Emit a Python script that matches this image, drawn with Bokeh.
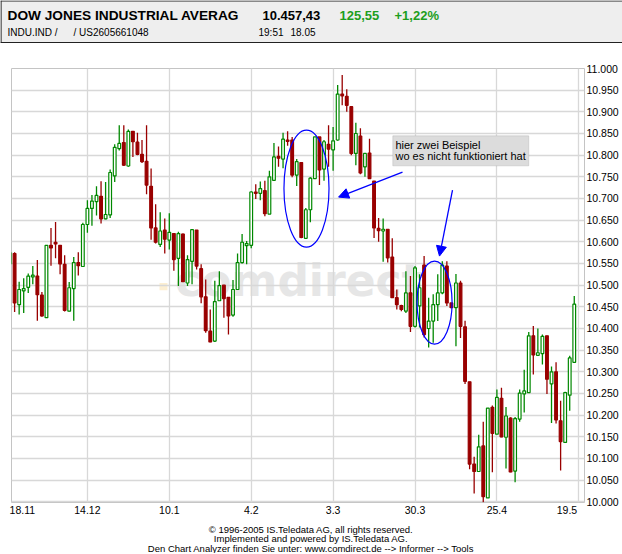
from bokeh.plotting import figure
from bokeh.layouts import column, row
from bokeh.models import (ColumnDataSource, FixedTicker, Label, BoxAnnotation,
                          Arrow, NormalHead, Range1d, Span)
from bokeh.embed import file_html
from bokeh.resources import INLINE

# ---------------- data (trading-day index, OHLC) ----------------
idx = list(range(1, 126))
opens = [10549,10573,10455,10487,10495,10519,10521,10477,10425,10592,
         10599,10592,10548,10440,10492,10552,10543,10640,10677,10693,
         10705,10653,10662,10752,10815,10829,10775,10855,10830,10802,
         10786,10728,10632,10594,10627,10604,10619,10562,10618,10505,
         10555,10627,10538,10473,10394,10371,10464,10500,10472,10431,
         10490,10552,10591,10592,10715,10712,10718,10664,10742,10797,
         10791,10835,10835,10754,10783,10608,10674,10746,10842,10768,
         10825,10812,10835,10941,10936,10912,10804,10844,10773,10805,
         10740,10631,10625,10629,10565,10471,10453,10440,10482,10405,
         10452,10546,10400,10417,10455,10482,10544,10459,10448,10505,
         10404,10277,10087,10070,10129,10009,10218,10156,10239,10149,
         10193,10071,10191,10249,10252,10383,10338,10342,10383,10272,
         10300,10187,10137,10246,10322]
highs = [10587,10576,10508,10516,10527,10544,10558,10484,10592,10632,
         10646,10592,10569,10507,10565,10576,10644,10696,10708,10728,
         10740,10738,10767,10825,10869,10869,10859,10855,10852,10835,
         10869,10769,10687,10668,10654,10666,10619,10623,10619,10569,
         10628,10627,10548,10513,10444,10510,10532,10500,10472,10512,
         10573,10618,10602,10717,10733,10739,10741,10764,10828,10820,
         10852,10855,10842,10791,10783,10678,10749,10842,10842,10835,
         10869,10865,10962,10985,10952,10912,10875,10862,10804,10838,
         10740,10655,10654,10629,10608,10490,10455,10532,10521,10544,
         10525,10567,10471,10479,10525,10555,10555,10459,10526,10510,
         10418,10277,10104,10155,10185,10216,10222,10259,10263,10219,
         10195,10196,10259,10305,10392,10406,10400,10386,10383,10312,
         10322,10233,10254,10337,10475]
lows = [10549,10438,10432,10436,10482,10502,10418,10427,10425,10545,
        10562,10525,10439,10439,10418,10522,10543,10621,10637,10661,
        10642,10652,10655,10738,10811,10775,10773,10796,10800,10782,
        10710,10605,10596,10588,10573,10582,10533,10498,10507,10498,
        10502,10536,10458,10390,10368,10369,10464,10425,10386,10427,
        10490,10550,10548,10585,10699,10696,10659,10664,10741,10773,
        10770,10822,10749,10729,10608,10608,10645,10745,10731,10741,
        10773,10764,10833,10915,10900,10800,10777,10756,10750,10746,
        10609,10600,10554,10552,10471,10444,10440,10436,10392,10402,
        10402,10379,10356,10367,10417,10479,10452,10448,10359,10378,
        10272,10075,10019,10070,9999,10009,10068,10156,10149,10077,
        10068,10045,10185,10206,10252,10294,10338,10317,10249,10182,
        10181,10072,10137,10210,10322]
closes = [10575,10459,10490,10492,10521,10523,10478,10429,10592,10586,
          10595,10549,10442,10494,10552,10545,10640,10677,10694,10707,
          10653,10663,10760,10818,10827,10777,10855,10831,10802,10785,
          10731,10632,10599,10625,10606,10622,10559,10619,10508,10559,
          10628,10544,10473,10395,10369,10462,10499,10469,10429,10490,
          10552,10599,10596,10715,10712,10723,10665,10750,10796,10793,
          10837,10832,10754,10785,10610,10674,10747,10842,10766,10831,
          10814,10833,10941,10937,10915,10804,10850,10759,10804,10746,
          10632,10626,10629,10563,10471,10455,10444,10482,10405,10540,
          10494,10386,10417,10455,10482,10546,10459,10448,10505,10405,
          10278,10087,10070,10127,10012,10216,10158,10241,10150,10198,
          10069,10192,10251,10256,10383,10339,10344,10382,10283,10300,
          10189,10139,10252,10332,10456]

# x tick labels (one every 18 trading days), index positions
x_tick_idx = [0, 18, 36, 54, 72, 90, 108, 126]
x_tick_labels = ["18.11", "14.12", "10.1", "4.2", "3.3", "30.3", "25.4", "19.5"]
y_tick_values = [10000, 10050, 10100, 10150, 10200, 10250, 10300, 10350, 10400,
                 10450, 10500, 10550, 10600, 10650, 10700, 10750, 10800, 10850,
                 10900, 10950, 11000]
y_tick_labels = ["10.000", "10.050", "10.100", "10.150", "10.200", "10.250",
                 "10.300", "10.350", "10.400", "10.450", "10.500", "10.550",
                 "10.600", "10.650", "10.700", "10.750", "10.800", "10.850",
                 "10.900", "10.950", "11.000"]

GREEN = "#008800"
RED = "#990000"
FONT = "Liberation Sans"
W = 622

# ---------------- header ----------------
hdr = figure(width=W, height=43, x_range=(0, W), y_range=(0, 43),
             toolbar_location=None, output_backend="svg",
             x_axis_location=None, y_axis_location=None, min_border=0)
hdr.grid.visible = False
hdr.background_fill_color = "#eeeeee"
hdr.border_fill_color = "#eeeeee"
hdr.outline_line_color = None
hdr.add_layout(Span(location=0.8, dimension="width", line_color="#222222", line_width=1.6))
hdr.add_layout(Span(location=42.5, dimension="width", line_color="#222222", line_width=1.2))
hdr.add_layout(Span(location=0.5, dimension="height", line_color="#222222", line_width=1.2))

def hlabel(x, y, text, size="13px", bold=True, color="black"):
    hdr.add_layout(Label(x=x, y=y, text=text, text_font=FONT, text_font_size=size,
                         text_font_style="bold" if bold else "normal",
                         text_color=color, text_baseline="middle"))

hlabel(7, 28.3, "DOW JONES INDUSTRIAL AVERAG", size="13.7px")
hlabel(262, 28.3, "10.457,43")
hlabel(339, 28.3, "125,55", color="#1d9e1d")
hlabel(394, 28.3, "+1,22%", color="#1d9e1d")
hlabel(7, 11.3, "INDU.IND /", size="10px", bold=False)
hlabel(73, 11.3, "/ US2605661048", size="10px", bold=False)
hlabel(258, 11.3, "19:51", size="10px", bold=False)
hlabel(290, 11.3, "18.05", size="10px", bold=False)

# ---------------- main chart ----------------
p = figure(width=W, height=480, x_range=Range1d(1.319, 127.25),
           y_range=Range1d(9998.4, 11000), y_axis_location="right",
           toolbar_location=None, output_backend="svg",
           min_border_left=11, min_border_right=38, min_border_top=25, min_border_bottom=21)
p.background_fill_color = "white"
p.border_fill_color = "white"
p.outline_line_color = "#c4c4c4"

p.yaxis.ticker = FixedTicker(ticks=y_tick_values)
p.yaxis.major_label_overrides = {v: l for v, l in zip(y_tick_values, y_tick_labels)}
p.yaxis.axis_line_color = None
p.yaxis.major_tick_line_color = None
p.yaxis.minor_tick_line_color = None
p.yaxis.major_tick_out = 0
p.yaxis.major_tick_in = 0
p.yaxis.minor_tick_out = 0
p.yaxis.major_label_standoff = 2
p.yaxis.major_label_text_font = FONT
p.yaxis.major_label_text_font_size = "10.5px"
p.yaxis.major_label_text_color = "black"

# first/last labels are pushed inside the plot like the original
x_label_pos = list(x_tick_idx)
x_label_pos[0] = 3.7
x_label_pos[-1] = 123.4
p.xaxis.ticker = FixedTicker(ticks=x_label_pos)
p.xaxis.major_label_overrides = {pos: l for pos, l in zip(x_label_pos, x_tick_labels)}
p.xaxis.axis_line_color = None
p.xaxis.major_tick_line_color = None
p.xaxis.minor_tick_line_color = None
p.xaxis.major_tick_out = 0
p.xaxis.major_tick_in = 0
p.xaxis.minor_tick_out = 0
p.xaxis.major_label_standoff = 3
p.xaxis.major_label_text_font = FONT
p.xaxis.major_label_text_font_size = "10.5px"
p.xaxis.major_label_text_color = "black"

p.xgrid.ticker = FixedTicker(ticks=x_tick_idx[1:])
p.ygrid.ticker = FixedTicker(ticks=y_tick_values)
p.grid.grid_line_color = "#d8d8d8"
p.grid.grid_line_width = 1.3

# watermark
p.add_layout(BoxAnnotation(left=33.85, right=35.6, bottom=10488.5, top=10504.7,
                           fill_color="#fdefd2", fill_alpha=1, line_color=None, level="image"))
p.add_layout(Label(x=37.3, y=10510, text="comdirect", text_font="DejaVu Sans",
                   text_font_style="bold", text_font_size="44px", text_color="#e6e6e6",
                   text_baseline="middle", level="image"))

up = [c >= o for o, c in zip(opens, closes)]
src = ColumnDataSource(dict(
    x=idx, o=opens, h=highs, l=lows, c=closes,
    top=[max(o, c) for o, c in zip(opens, closes)],
    bottom=[min(o, c) for o, c in zip(opens, closes)],
    col=[GREEN if u else RED for u in up],
    fill=["white" if u else RED for u in up],
))
p.segment(x0="x", y0="l", x1="x", y1="h", source=src, line_color="col", line_width=1.3)
p.vbar(x="x", width=0.6, top="top", bottom="bottom", source=src,
       fill_color="fill", line_color="col", line_width=1.2)

# annotations (blue ellipses, arrows, call-out)
p.ellipse(x=[66.15, 94.3], y=[10722.8, 10459.7], width=[9.9, 7.7], height=[270, 191.6],
          fill_color=None, line_color="blue", line_width=1.2)
p.add_layout(Arrow(end=NormalHead(size=10, fill_color="blue", line_color="blue"),
                   x_start=87.25, y_start=10760.9, x_end=73.2, y_end=10703.2,
                   line_color="blue", line_width=1.3))
p.add_layout(Arrow(end=NormalHead(size=10, fill_color="blue", line_color="blue"),
                   x_start=98.24, y_start=10719.4, x_end=95.38, y_end=10567.1,
                   line_color="blue", line_width=1.3))
p.add_layout(BoxAnnotation(left=85.12, right=115.0, bottom=10775.4, top=10844.6,
                           fill_color="#dcdcdc", fill_alpha=1, line_color="#9a9a9a", line_width=1))
p.add_layout(Label(x=85.7, y=10824.4, text="hier zwei Beispiel", text_font=FONT,
                   text_font_size="11px", text_color="black", text_baseline="middle"))
p.add_layout(Label(x=85.7, y=10799.0, text="wo es nicht funktioniert hat", text_font=FONT,
                   text_font_size="11px", text_color="black", text_baseline="middle"))

# ---------------- footer ----------------
ftr = figure(width=W, height=30, x_range=(0, W), y_range=(0, 30),
             toolbar_location=None, output_backend="svg",
             x_axis_location=None, y_axis_location=None, min_border=0)
ftr.grid.visible = False
ftr.outline_line_color = None
footer = ["\u00a9 1996-2005 IS.Teledata AG, all rights reserved.",
          "Implemented and powered by IS.Teledata AG.",
          "Den Chart Analyzer finden Sie unter: www.comdirect.de --> Informer --> Tools"]
for k, t in enumerate(footer):
    ftr.add_layout(Label(x=310.5, y=24.5 - 9.9 * k, text=t,
                         text_font=FONT, text_font_size="9.5px", text_align="center",
                         text_baseline="middle", text_color="black"))

layout = column(row(hdr), p, row(ftr), spacing=0)
open("out.html", "w").write(file_html(layout, INLINE))
